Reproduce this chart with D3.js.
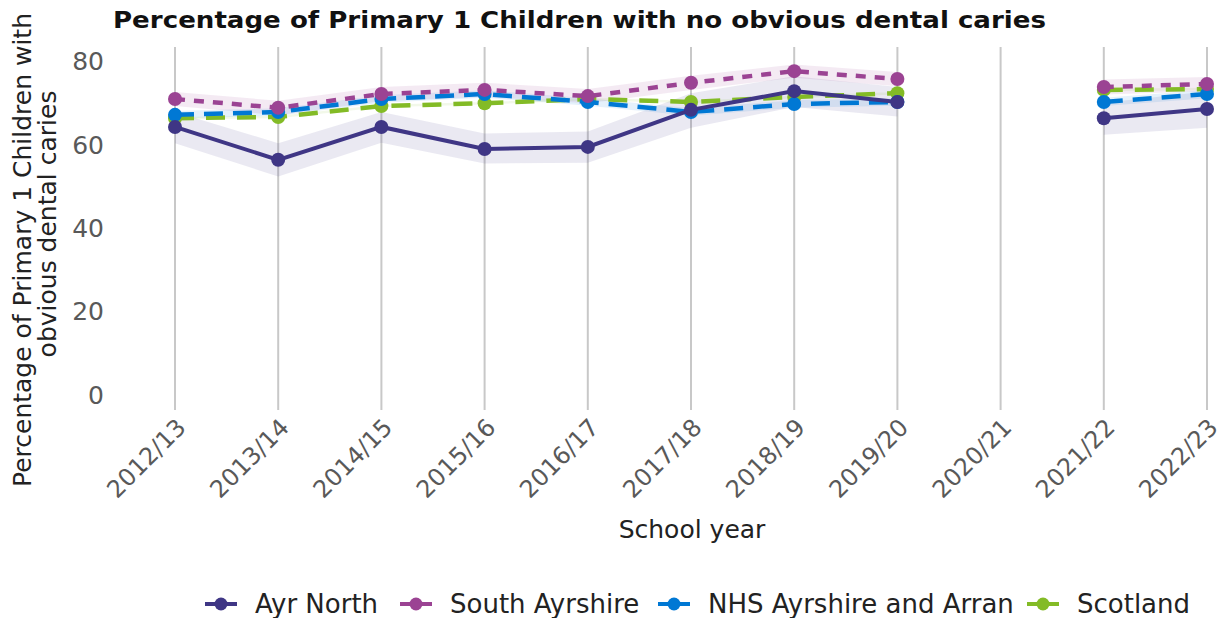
<!DOCTYPE html>
<html>
<head>
<meta charset="utf-8">
<script src="https://cdn.jsdelivr.net/npm/d3@7"></script>
<style>
  body { margin: 0; background: #fff; }
  svg text { font-family: "DejaVu Sans", sans-serif; }
</style>
</head>
<body>
<div id="chart"></div>
<script>

// school years (2020/21 has no data)
var years = ["2012/13", "2013/14", "2014/15", "2015/16", "2016/17", "2017/18",
             "2018/19", "2019/20", "2020/21", "2021/22", "2022/23"];

// series values, % with no obvious dental caries
var ayrNorth      = [64.4, 56.5, 64.4, 59.1, 59.6, 68.5, 73.0, 70.4, null, 66.5, 68.7];
var ayrNorthLow   = [60.5, 52.5, 60.6, 55.6, 55.8, 64.2, 69.2, 66.9, null, 62.5, 64.2];
var ayrNorthHigh  = [68.0, 60.5, 68.0, 62.8, 63.3, 72.5, 76.6, 74.0, null, 70.2, 72.9];

var southAyr      = [71.1, 69.0, 72.3, 73.3, 71.8, 75.0, 77.8, 75.9, null, 74.0, 74.7];
var southAyrLow   = [69.4, 67.2, 70.6, 71.6, 70.1, 73.3, 76.2, 74.2, null, 72.2, 73.0];
var southAyrHigh  = [72.8, 70.7, 74.0, 75.0, 73.5, 76.7, 79.4, 77.6, null, 75.8, 76.4];

var nhsAA         = [67.3, 68.0, 71.1, 72.3, 70.4, 68.0, 69.9, 70.4, null, 70.4, 72.3];
var nhsAALow      = [66.4, 67.1, 70.2, 71.4, 69.5, 67.1, 69.0, 69.5, null, 69.4, 71.3];
var nhsAAHigh     = [68.2, 68.9, 72.0, 73.2, 71.3, 68.9, 70.8, 71.3, null, 71.4, 73.3];

var scotland      = [66.5, 66.8, 69.4, 70.1, 71.1, 70.4, 71.6, 72.5, null, 73.3, 73.5];
var scotlandLow   = [66.2, 66.5, 69.1, 69.8, 70.8, 70.1, 71.3, 72.2, null, 73.0, 73.2];
var scotlandHigh  = [66.8, 67.1, 69.7, 70.4, 71.4, 70.7, 71.9, 72.8, null, 73.6, 73.8];

var yTicks = [0, 20, 40, 60, 80];

var seriesNames = ["Ayr North", "South Ayrshire", "NHS Ayrshire and Arran", "Scotland"];

var series = [
  {name: "Ayr North", vals: ayrNorth, low: ayrNorthLow, high: ayrNorthHigh,
   color: "#3f3685", dash: null, width: 4, ribbon: "rgba(63,54,133,0.11)"},
  {name: "South Ayrshire", vals: southAyr, low: southAyrLow, high: southAyrHigh,
   color: "#9b4393", dash: "10,9", width: 4.5, ribbon: "rgba(155,67,147,0.11)"},
  {name: "NHS Ayrshire and Arran", vals: nhsAA, low: nhsAALow, high: nhsAAHigh,
   color: "#0078d4", dash: "19,10", width: 4.5, ribbon: "rgba(0,120,212,0.10)"},
  {name: "Scotland", vals: scotland, low: scotlandLow, high: scotlandHigh,
   color: "#83bb26", dash: "19,12", width: 4.5, ribbon: "rgba(131,187,38,0.10)"}
];

var W = 1224, H = 618;
var fs = "25px";

var svg = d3.select("#chart").append("svg")
    .attr("width", W)
    .attr("height", H);

// scales
var x = d3.scalePoint().domain(years).range([175, 1207]);
var y = d3.scaleLinear().domain([-3.6, 83.6]).range([410, 47]);

// vertical grid lines
svg.append("g")
  .selectAll("line")
  .data(years)
  .enter().append("line")
    .attr("x1", function(d) { return x(d); })
    .attr("x2", function(d) { return x(d); })
    .attr("y1", y.range()[1])
    .attr("y2", y.range()[0])
    .attr("stroke", "#c8c8c8")
    .attr("stroke-width", 2);

// y axis labels
var yAxis = svg.append("g")
    .attr("transform", "translate(104,0)")
    .call(d3.axisLeft(y).tickValues(yTicks).tickSize(0).tickPadding(0));
yAxis.select(".domain").remove();
yAxis.selectAll("text")
    .style("font-size", fs)
    .attr("fill", "#595959");

// x axis labels
var xAxis = svg.append("g")
    .attr("transform", "translate(0,417)")
    .call(d3.axisBottom(x).tickSize(0).tickPadding(0));
xAxis.select(".domain").remove();
xAxis.selectAll("text")
    .style("font-size", "24px")
    .attr("fill", "#595959")
    .style("text-anchor", "end")
    .attr("dy", "0.7em")
    .attr("transform", "translate(0,0) rotate(-45)");

// ribbons
var area = d3.area()
    .defined(function(d) { return d.lo != null; })
    .x(function(d) { return x(d.year); })
    .y0(function(d) { return y(d.lo); })
    .y1(function(d) { return y(d.hi); });

var line = d3.line()
    .defined(function(d) { return d.v != null; })
    .x(function(d) { return x(d.year); })
    .y(function(d) { return y(d.v); });

series.forEach(function(s) {
  var pts = years.map(function(yr, i) {
    return {year: yr, v: s.vals[i], lo: s.low[i], hi: s.high[i]};
  });
  s.pts = pts;
  svg.append("path")
      .datum(pts)
      .attr("d", area)
      .attr("fill", s.ribbon)
      .attr("stroke", "none");
});

// lines and points, drawn bottom to top
series.slice().reverse().forEach(function(s) {
  svg.append("path")
      .datum(s.pts)
      .attr("d", line)
      .attr("fill", "none")
      .attr("stroke", s.color)
      .attr("stroke-width", s.width)
      .attr("stroke-dasharray", s.dash);
  svg.append("g")
    .selectAll("circle")
    .data(s.pts.filter(function(d) { return d.v != null; }))
    .enter().append("circle")
      .attr("cx", function(d) { return x(d.year); })
      .attr("cy", function(d) { return y(d.v); })
      .attr("r", 7)
      .attr("fill", s.color);
});

// title
svg.append("text")
    .attr("x", 113)
    .attr("y", 28)
    .style("font-size", "23px")
    .style("font-weight", "bold")
    .attr("fill", "#111")
    .attr("textLength", 933)
    .attr("lengthAdjust", "spacingAndGlyphs")
    .text("Percentage of Primary 1 Children with no obvious dental caries");

// y axis title (two lines)
svg.append("text")
    .attr("transform", "translate(31,250) rotate(-90)")
    .style("font-size", fs)
    .attr("fill", "#222")
    .attr("text-anchor", "middle")
    .text("Percentage of Primary 1 Children with");
svg.append("text")
    .attr("transform", "translate(56,224) rotate(-90)")
    .style("font-size", fs)
    .attr("fill", "#222")
    .attr("text-anchor", "middle")
    .text("obvious dental caries");

// x axis title
svg.append("text")
    .attr("x", 692)
    .attr("y", 538)
    .attr("text-anchor", "middle")
    .style("font-size", fs)
    .attr("fill", "#222")
    .text("School year");

// legend
var legendX = [205, 400, 658, 1027];
var legend = svg.append("g");
series.forEach(function(s, i) {
  var g = legend.append("g").attr("transform", "translate(" + legendX[i] + ",604)");
  g.append("line")
      .attr("x1", 0).attr("x2", 32)
      .attr("stroke", s.color)
      .attr("stroke-width", 4);
  g.append("circle")
      .attr("cx", 16).attr("r", 6.5)
      .attr("fill", s.color);
  g.append("text")
      .attr("x", 50)
      .attr("dy", "0.35em")
      .style("font-size", "26px")
      .attr("fill", "#222")
      .text(seriesNames[i]);
});

</script>
</body>
</html>
